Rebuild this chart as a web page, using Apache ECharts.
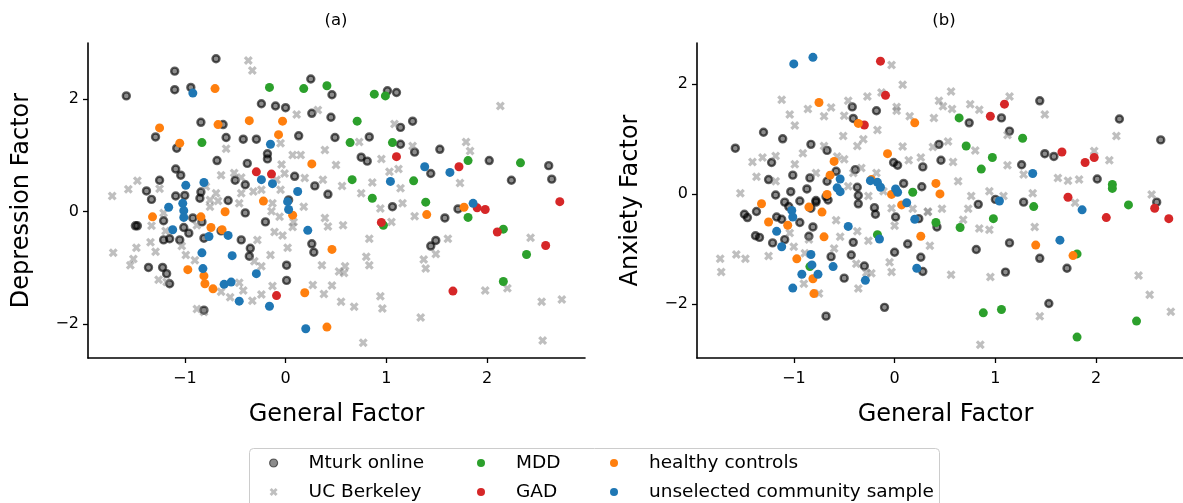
<!DOCTYPE html>
<html>
<head>
<meta charset="utf-8">
<script src="https://cdn.jsdelivr.net/npm/echarts@6/dist/echarts.min.js"></script>
<style>
  html, body { margin: 0; padding: 0; background: #fff; }
  #chart { width: 1183px; height: 503px; }
</style>
</head>
<body>
<div id="chart"></div>
<script>
// ---- tick labels ----
const xTicks = [-1, 0, 1, 2];
const yTicks = [-2, 0, 2];

// ---- panel (a): General Factor vs Depression Factor ----
const mturkA = [[-0.69,2.72],[-1.10,2.50],[-1.58,2.06],[-1.10,2.17],[-0.94,2.21],[0.25,2.36],[0.46,2.08],[1.01,2.15],[1.10,2.12],[-0.24,1.92],[-0.10,1.88],[0.00,1.85],[0.26,1.75],[0.45,1.68],[-0.84,1.59],[-0.62,1.55],[-1.29,1.33],[-1.08,1.13],[-0.59,1.32],[-0.42,1.29],[-0.29,1.29],[0.13,1.35],[0.49,1.32],[0.83,1.33],[1.14,1.50],[1.26,1.61],[1.14,1.20],[1.28,1.06],[1.53,1.11],[-0.18,1.03],[-0.18,0.94],[-0.68,0.91],[-0.38,0.86],[0.75,0.97],[0.81,0.90],[2.02,0.91],[2.61,0.82],[2.64,0.58],[2.24,0.56],[1.44,0.68],[-1.09,0.76],[-1.04,0.65],[-1.25,0.56],[-0.50,0.56],[-0.40,0.48],[0.09,0.63],[0.29,0.46],[-1.38,0.37],[-1.33,0.22],[-1.09,0.28],[-1.00,0.29],[-0.84,0.35],[-0.85,0.24],[-0.57,0.20],[-0.40,-0.02],[0.03,0.21],[0.42,0.31],[1.06,0.09],[1.58,-0.11],[1.71,0.05],[-1.49,-0.25],[-1.47,-0.25],[-1.21,-0.16],[-1.21,-0.50],[-1.15,-0.48],[-1.05,-0.50],[-1.01,-0.28],[-0.92,-0.11],[-0.83,-0.18],[-0.20,-0.18],[-0.64,-0.34],[-0.44,-0.50],[-0.35,-0.65],[-0.36,-0.79],[0.26,-0.57],[0.28,-0.72],[0.01,-0.95],[0.01,-1.22],[1.44,-0.61],[1.49,-0.51],[-1.36,-0.99],[-1.22,-0.99],[-1.18,-1.10],[-1.15,-1.28],[-0.81,-1.75],[-0.81,-0.47],[-0.96,-0.38]];
const berkeleyA = [[-0.37,2.69],[-0.33,2.51],[2.13,1.88],[0.32,1.81],[0.11,1.73],[1.08,1.56],[0.73,1.24],[1.26,1.17],[1.79,1.24],[1.83,1.08],[-0.59,1.12],[0.15,1.01],[0.07,1.01],[-0.05,1.22],[0.95,0.94],[0.50,0.83],[0.39,1.10],[-0.04,0.84],[1.12,0.76],[1.03,0.71],[1.73,0.51],[1.14,0.42],[0.86,0.52],[-0.01,0.68],[0.19,0.60],[0.37,0.57],[0.56,0.46],[0.75,0.33],[0.94,0.06],[1.05,-0.18],[1.28,-0.08],[1.16,0.15],[-0.64,0.65],[-0.51,0.69],[-0.44,0.61],[-1.47,0.55],[-1.56,0.40],[-1.72,0.28],[-1.25,0.41],[-0.69,0.33],[-0.67,0.19],[-1.21,-0.02],[-1.33,-0.25],[-1.34,-0.54],[-1.29,-0.71],[-1.48,-0.64],[-1.71,-0.73],[-1.51,-0.84],[-1.54,-0.95],[-1.26,-1.21],[-1.18,-1.25],[-0.88,-1.73],[-0.81,-1.78],[-0.46,-1.26],[-0.42,-1.40],[-0.24,-1.47],[-0.33,-1.58],[-0.13,-1.32],[-0.55,-1.52],[-0.64,-1.42],[-0.15,-0.77],[0.02,-0.64],[-0.03,-0.42],[-0.11,-0.36],[-0.28,-0.50],[-0.31,-0.88],[-0.24,-0.97],[0.18,0.09],[-0.14,0.01],[-0.06,-0.09],[0.07,-0.27],[0.08,-0.18],[0.39,-0.11],[0.42,-0.26],[0.57,-0.24],[0.36,-0.95],[0.46,-1.31],[0.27,-1.30],[0.38,-1.46],[0.55,-1.60],[0.68,-1.69],[0.59,-0.97],[0.53,-1.06],[0.58,-1.09],[0.80,-0.80],[0.83,-0.95],[0.83,-0.48],[0.94,-1.50],[0.96,-1.72],[1.34,-1.88],[0.77,-2.33],[1.37,-0.85],[1.39,-1.01],[1.61,-0.48],[1.49,-0.75],[1.98,-1.40],[2.20,-1.36],[2.43,-0.46],[2.54,-1.60],[2.55,-2.29],[2.74,-1.56],[-1.03,-0.61],[-0.90,-0.86],[-0.99,-0.77],[-0.88,-0.24],[-1.19,-0.34],[-0.75,0.21],[-0.79,0.45],[-0.75,0.09],[-0.44,0.33],[-0.46,0.15],[-0.32,0.36],[-0.24,0.39],[-0.05,0.39],[-0.09,0.57],[-0.13,0.15]];
const mddA = [[-0.83,1.23],[-0.16,2.21],[0.18,2.19],[0.41,2.24],[0.88,2.09],[0.99,2.06],[0.71,1.61],[0.64,1.23],[1.06,1.23],[0.66,0.57],[1.27,0.55],[0.86,0.24],[1.39,0.17],[1.81,0.91],[2.33,0.87],[1.81,-0.10],[0.97,-0.24],[2.16,-0.31],[2.39,-0.76],[2.16,-1.24]];
const gadA = [[-0.29,0.71],[-0.14,0.67],[1.10,0.98],[1.72,0.80],[0.95,-0.19],[1.90,0.07],[1.98,0.04],[2.72,0.18],[2.10,-0.36],[2.58,-0.60],[1.66,-1.41],[-0.09,-1.49]];
const healthyA = [[-0.70,2.19],[-1.25,1.49],[-1.05,1.22],[-0.67,1.55],[-0.36,1.62],[-0.03,1.61],[-0.07,1.37],[0.26,0.85],[-0.22,0.19],[-0.60,0.00],[-1.32,-0.09],[-0.84,-0.09],[-0.74,-0.28],[-0.63,-0.32],[0.07,-0.06],[0.46,-0.67],[-0.97,-1.03],[-0.81,-1.14],[-0.80,-1.28],[-0.72,-1.37],[0.19,-1.44],[0.41,-2.05],[1.40,-0.05],[1.77,0.08]];
const communityA = [[-0.92,2.11],[-0.15,1.20],[-0.99,0.47],[-0.81,0.52],[-0.24,0.57],[-0.13,0.50],[0.12,0.36],[0.02,0.18],[0.03,0.04],[-1.16,0.08],[-1.02,0.15],[-1.01,0.02],[-1.01,-0.10],[-1.12,-0.32],[-0.76,-0.44],[-0.57,-0.42],[-0.83,-0.73],[-0.53,-0.78],[0.22,-0.33],[-0.82,-1.01],[-0.29,-1.10],[-0.61,-1.29],[-0.54,-1.25],[-0.46,-1.59],[-0.16,-1.68],[0.20,-2.08],[1.04,0.54],[1.38,0.80],[1.63,0.70],[1.86,0.15]];

// ---- panel (b): General Factor vs Anxiety Factor ----
const mturkB = [[-1.58,0.83],[-1.30,1.12],[-1.11,1.00],[-0.83,0.90],[-0.67,0.79],[-1.22,0.57],[-1.01,0.34],[-1.25,0.26],[-0.84,0.29],[-0.42,1.58],[-0.18,1.51],[-0.41,1.37],[-0.39,0.44],[-0.58,0.41],[-0.01,0.57],[0.03,0.52],[0.28,0.49],[0.44,0.90],[0.46,0.61],[0.74,1.29],[1.06,1.38],[1.14,1.14],[1.44,1.69],[2.23,1.36],[2.64,0.98],[1.49,0.73],[1.58,0.68],[1.26,0.53],[2.01,0.27],[2.60,-0.15],[1.28,-0.15],[0.83,-0.19],[1.00,-0.10],[1.14,-0.89],[0.81,-1.01],[1.44,-1.17],[1.10,-1.42],[1.71,-1.35],[1.53,-1.99],[-0.10,-2.06],[-0.68,-2.22],[0.42,-0.60],[0.24,-0.45],[0.27,0.13],[0.09,0.19],[-0.37,0.12],[-0.36,-0.03],[-0.36,-0.18],[-0.20,-0.25],[-0.19,-0.37],[0.01,-0.42],[-0.41,-0.88],[-0.43,-1.11],[-0.63,-1.14],[-0.50,-1.53],[-0.30,-1.31],[0.00,-1.06],[0.13,-0.91],[0.26,-1.15],[0.28,-1.41],[-0.78,-0.12],[-0.66,-0.11],[-0.81,-0.60],[-0.85,-0.77],[-1.09,-0.15],[-1.05,-0.23],[-1.18,-0.02],[-1.37,-0.32],[-1.49,-0.37],[-1.46,-0.43],[-1.17,-0.42],[-1.12,-0.46],[-0.94,-0.52],[-1.38,-0.76],[-1.34,-0.79],[-1.21,-0.89],[-1.09,-0.83],[-0.83,-0.26],[-0.78,-0.15],[-0.87,0.09],[-1.03,0.04],[-0.68,-0.05],[-0.67,0.23],[-0.94,-0.13]];
const berkeleyB = [[-0.03,2.34],[0.08,1.98],[-0.13,1.84],[-0.27,1.77],[-0.46,1.69],[-0.63,1.57],[-0.86,1.54],[-0.70,1.41],[-1.12,1.71],[-1.04,1.44],[-0.99,1.24],[-0.17,1.16],[-0.50,1.42],[0.02,1.58],[0.02,1.51],[0.15,1.41],[0.39,1.38],[0.56,1.86],[0.44,1.69],[0.48,1.59],[0.57,1.54],[0.75,1.63],[0.84,1.53],[1.14,1.77],[1.49,1.44],[1.12,1.07],[2.20,1.05],[2.13,0.61],[0.80,0.79],[0.53,0.95],[0.38,0.85],[0.08,0.86],[0.14,0.61],[0.26,0.66],[0.58,0.58],[0.63,0.23],[1.12,0.52],[1.28,0.35],[1.62,0.29],[1.72,0.24],[1.83,0.26],[1.98,0.78],[0.94,0.05],[0.76,-0.04],[0.73,-0.27],[1.08,-0.04],[1.37,0.01],[1.39,-0.60],[0.94,-0.65],[0.84,-0.63],[0.68,-0.47],[0.47,-0.27],[0.95,-1.51],[0.56,-1.47],[0.35,-0.94],[0.33,-0.33],[1.44,-2.22],[0.85,-2.74],[1.79,-0.16],[2.42,-1.48],[2.53,-1.83],[2.74,-2.14],[2.55,-0.01],[-1.53,0.01],[-1.73,-1.18],[-1.72,-1.42],[-1.57,-1.10],[-1.48,-1.18],[-1.25,-1.13],[-1.41,0.58],[-1.31,0.66],[-1.18,0.69],[-1.37,0.31],[-0.91,0.74],[-0.99,0.54],[-1.18,0.23],[-0.70,0.87],[-0.57,0.68],[-0.50,0.63],[-0.51,1.05],[-0.37,0.87],[-0.31,0.99],[-0.85,-0.83],[-0.90,-1.63],[-0.75,-1.81],[-0.36,-1.72],[-0.28,-1.43],[-0.23,-1.44],[-0.38,-1.27],[-0.05,-1.24],[-0.03,-1.42],[-0.26,-0.85],[-0.37,-0.68],[-0.58,-0.48],[-0.54,-0.78],[-0.60,-0.99],[0.00,-0.58],[-0.03,-0.26],[0.18,-0.27],[0.33,-0.32],[-1.04,-0.71],[-1.00,-0.96],[-0.89,-1.08],[-0.78,0.38],[-0.41,0.38],[-0.33,0.47],[-0.18,0.38],[-0.11,0.05],[-0.26,-0.04],[-0.46,0.14]];
const mddB = [[0.64,1.38],[0.71,0.87],[1.27,1.01],[0.97,0.66],[0.86,0.45],[0.18,0.03],[2.16,0.17],[2.16,0.10],[1.38,-0.23],[2.32,-0.20],[0.41,-0.52],[0.65,-0.61],[0.98,-0.45],[-0.17,-0.74],[-0.84,-1.32],[1.81,-1.09],[0.88,-2.16],[1.06,-2.10],[2.40,-2.31],[1.81,-2.60]];
const gadB = [[-0.14,2.41],[-0.09,1.79],[-0.30,1.25],[1.09,1.63],[0.95,1.41],[1.66,0.76],[1.89,0.57],[1.98,0.66],[1.72,-0.06],[2.10,-0.43],[2.58,-0.26],[2.72,-0.45]];
const healthyB = [[-0.75,1.66],[-0.36,1.28],[0.20,1.29],[-0.07,0.73],[-0.60,0.59],[-0.64,0.34],[-0.67,-0.01],[-0.23,0.26],[-0.03,-0.01],[0.07,-0.20],[0.41,0.19],[0.45,0.00],[-1.32,-0.18],[-1.25,-0.51],[-1.06,-0.57],[-0.85,-0.24],[-0.72,-0.33],[-0.70,-0.78],[0.26,-0.77],[-0.97,-1.18],[-0.81,-1.54],[-0.80,-1.81],[1.40,-0.93],[1.77,-1.12]];
const communityB = [[-1.00,2.36],[-0.81,2.48],[-0.54,0.27],[-0.57,0.11],[-0.54,0.04],[-0.24,0.24],[-0.17,0.21],[-0.14,0.12],[0.01,0.09],[0.03,0.03],[0.12,-0.16],[0.20,-0.46],[0.22,-1.35],[-0.46,-0.59],[-1.02,-0.30],[-1.01,-0.42],[-1.17,-0.68],[-1.12,-0.96],[-0.15,-0.82],[-0.83,-1.10],[-0.82,-1.29],[-0.76,-1.46],[-0.92,-1.46],[-0.61,-1.32],[-0.29,-1.57],[-1.01,-1.71],[1.37,0.37],[1.04,-0.13],[1.86,-0.29],[1.64,-0.84]];

const FONT = 'DejaVu Sans';
// thick filled "X" marker
const X_PATH = 'path://M1,4L0,3L1,2L0,1L1,0L2,1L3,0L4,1L3,2L4,3L3,4L2,3Z';

const minus = v => String(v).replace('-', '\u2212');

const groups = [
  { name: 'Mturk online', a: mturkA, b: mturkB, symbol: 'circle', size: 7,
    style: { color: 'rgba(0,0,0,0.45)', borderColor: 'rgba(0,0,0,0.62)', borderWidth: 2.4, opacity: 1 } },
  { name: 'UC Berkeley', a: berkeleyA, b: berkeleyB, symbol: X_PATH, size: 9,
    style: { color: 'rgba(128,128,128,0.5)', opacity: 1 } },
  { name: 'MDD', a: mddA, b: mddB, symbol: 'circle', size: 9, style: { color: '#2ca02c', opacity: 1 } },
  { name: 'GAD', a: gadA, b: gadB, symbol: 'circle', size: 9, style: { color: '#d62728', opacity: 1 } },
  { name: 'healthy controls', a: healthyA, b: healthyB, symbol: 'circle', size: 9, style: { color: '#ff7f0e', opacity: 1 } },
  { name: 'unselected community sample', a: communityA, b: communityB, symbol: 'circle', size: 9, style: { color: '#1f77b4', opacity: 1 } }
];

const series = [];
groups.forEach(g => {
  ['a', 'b'].forEach((k, i) => {
    series.push({
      type: 'scatter', name: g.name, data: g[k],
      xAxisIndex: i, yAxisIndex: i,
      symbol: g.symbol, symbolSize: g.size, symbolKeepAspect: true,
      itemStyle: g.style, silent: true,
      emphasis: { disabled: true }
    });
  });
});

function xAxis(i) {
  return {
    gridIndex: i, type: 'value', min: -1.96, max: 2.97,
    name: 'General Factor', nameLocation: 'middle', nameGap: 45,
    nameTextStyle: { fontFamily: FONT, fontSize: 24, color: '#000' },
    axisLine: { show: true, onZero: false, lineStyle: { color: '#000', width: 1.6 } },
    axisTick: { show: true, length: 5, lineStyle: { color: '#000', width: 1.3 }, customValues: xTicks },
    axisLabel: { customValues: xTicks, formatter: minus, fontFamily: FONT, fontSize: 16, color: '#000', margin: 13 },
    splitLine: { show: false }
  };
}
function yAxis(i, name, min, max) {
  return {
    gridIndex: i, type: 'value', min: min, max: max,
    name: name, nameLocation: 'middle', nameGap: 54,
    nameTextStyle: { fontFamily: FONT, fontSize: 24, color: '#000' },
    axisLine: { show: true, onZero: false, lineStyle: { color: '#000', width: 1.6 } },
    axisTick: { show: true, length: 5, lineStyle: { color: '#000', width: 1.3 }, customValues: yTicks },
    axisLabel: { customValues: yTicks, formatter: minus, fontFamily: FONT, fontSize: 16, color: '#000', margin: 9 },
    splitLine: { show: false }
  };
}

const legendBase = {
  orient: 'vertical', top: 453, height: 120, itemWidth: 60, itemHeight: 8, itemGap: 9,
  padding: 0, selectedMode: false,
  textStyle: { fontFamily: FONT, fontSize: 18.5, lineHeight: 20, color: '#000' }
};

const option = {
  animation: false,
  backgroundColor: '#fff',
  grid: [
    { left: 88, top: 43, width: 497, height: 315, containLabel: false, outerBoundsMode: 'none' },
    { left: 697, top: 43, width: 497, height: 315, containLabel: false, outerBoundsMode: 'none' }
  ],
  xAxis: [xAxis(0), xAxis(1)],
  yAxis: [yAxis(0, 'Depression Factor', -2.6, 3.0), yAxis(1, 'Anxiety Factor', -2.98, 2.74)],
  legend: [
    Object.assign({}, legendBase, { left: 269, data: [
      { name: 'Mturk online', itemStyle: { color: 'rgba(0,0,0,0.45)', borderColor: 'rgba(0,0,0,0.55)', borderWidth: 1.2 } },
      { name: 'UC Berkeley', icon: X_PATH }
    ] }),
    Object.assign({}, legendBase, { left: 477, data: ['MDD', 'GAD'] }),
    Object.assign({}, legendBase, { left: 610, data: ['healthy controls', 'unselected community sample'] })
  ],
  graphic: [
    { type: 'text', x: 336, y: 21, style: { text: '(a)', font: '16.5px "DejaVu Sans"', fill: '#000', align: 'center', verticalAlign: 'middle' } },
    { type: 'text', x: 944, y: 21, style: { text: '(b)', font: '16.5px "DejaVu Sans"', fill: '#000', align: 'center', verticalAlign: 'middle' } },
    { type: 'rect', z: -1, shape: { x: 249.5, y: 448.5, width: 690, height: 80, r: 4 },
      style: { fill: 'rgba(255,255,255,0.8)', stroke: '#cccccc', lineWidth: 1 } }
  ],
  series: series
};

const chart = echarts.init(document.getElementById('chart'), null, { renderer: 'canvas' });
chart.setOption(option);
</script>
</body>
</html>
